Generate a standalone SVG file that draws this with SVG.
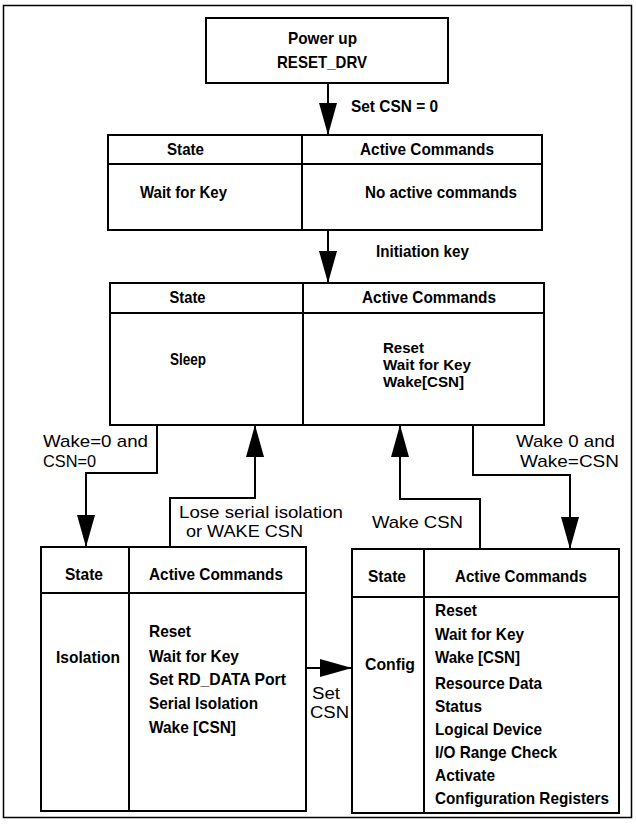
<svg xmlns="http://www.w3.org/2000/svg" width="636" height="824" viewBox="0 0 636 824">
<style>
.frame{fill:none;stroke:#000;stroke-width:1.5}
.box{fill:#fff;stroke:#000;stroke-width:2}
.ln{fill:none;stroke:#000;stroke-width:2}
.conn{fill:none;stroke:#000;stroke-width:2;marker-end:url(#ah)}
text{font-family:"Liberation Sans",Arial,Helvetica,sans-serif;fill:#000}
.b{font-weight:bold;font-size:17px}
.s{font-size:15px}
.r{font-weight:normal;font-size:17px}
.r2{font-size:16.5px}
.c{text-anchor:middle}
</style>
<defs>
<marker id="ah" markerUnits="userSpaceOnUse" markerWidth="32" markerHeight="18" refX="32" refY="9" orient="auto" viewBox="0 0 32 18">
<path d="M0,0 L32,9 L0,18 z" fill="#000"/>
</marker>
</defs>
<rect class="frame" x="3.5" y="5.5" width="628" height="812"/>

<g id="connectors">
<path class="conn" d="M328,83 V135"/>
<path class="conn" d="M328,230 V283"/>
<path class="conn" d="M157,425 V473 H86 V547"/>
<path class="conn" d="M170,547 V498 H255 V425"/>
<path class="conn" d="M480,549 V499 H400 V425"/>
<path class="conn" d="M473,425 V475 H570 V549"/>
<path class="conn" d="M306,668 H352"/>
<text class="b" x="351" y="112" textLength="87" lengthAdjust="spacingAndGlyphs">Set CSN = 0</text>
<text class="b" x="376" y="257" textLength="93" lengthAdjust="spacingAndGlyphs">Initiation key</text>
<text class="r" x="43" y="447" textLength="105" lengthAdjust="spacingAndGlyphs">Wake=0 and</text>
<text class="r" x="43" y="467" textLength="53" lengthAdjust="spacingAndGlyphs">CSN=0</text>
<text class="r r2" x="179" y="518" textLength="164" lengthAdjust="spacingAndGlyphs">Lose serial isolation</text>
<text class="r r2" x="186" y="537" textLength="117" lengthAdjust="spacingAndGlyphs">or WAKE CSN</text>
<text class="r" x="372" y="528" textLength="91" lengthAdjust="spacingAndGlyphs">Wake CSN</text>
<text class="r" x="516" y="447" textLength="99" lengthAdjust="spacingAndGlyphs">Wake 0 and</text>
<text class="r" x="520" y="467" textLength="99" lengthAdjust="spacingAndGlyphs">Wake=CSN</text>
<text class="r" x="312" y="699" style="font-size:16px" textLength="28" lengthAdjust="spacingAndGlyphs">Set</text>
<text class="r" x="310" y="718" style="font-size:16px" textLength="39" lengthAdjust="spacingAndGlyphs">CSN</text>
</g>

<g id="powerup">
<rect class="box" x="206" y="18" width="242" height="65"/>
<text class="b c" x="322.5" y="44" textLength="69" lengthAdjust="spacingAndGlyphs">Power up</text>
<text class="b c" x="322" y="68" textLength="90" lengthAdjust="spacingAndGlyphs">RESET_DRV</text>
</g>

<g id="waitforkey">
<rect class="box" x="108" y="135" width="434" height="95"/>
<path class="ln" d="M108,164 H542 M302,135 V230"/>
<text class="b c" x="185.5" y="155" textLength="37" lengthAdjust="spacingAndGlyphs">State</text>
<text class="b c" x="427" y="155" textLength="134" lengthAdjust="spacingAndGlyphs">Active Commands</text>
<text class="b" x="140" y="198" textLength="87" lengthAdjust="spacingAndGlyphs">Wait for Key</text>
<text class="b" x="365" y="198" textLength="152" lengthAdjust="spacingAndGlyphs">No active commands</text>
</g>

<g id="sleep">
<rect class="box" x="110" y="283" width="434" height="142"/>
<path class="ln" d="M110,313 H544 M303,283 V425"/>
<text class="b c" x="187.5" y="303" textLength="36" lengthAdjust="spacingAndGlyphs">State</text>
<text class="b c" x="429" y="303" textLength="134" lengthAdjust="spacingAndGlyphs">Active Commands</text>
<text class="b" x="170" y="365" textLength="36" lengthAdjust="spacingAndGlyphs">Sleep</text>
<text class="b s" x="383" y="353" textLength="41" lengthAdjust="spacingAndGlyphs">Reset</text>
<text class="b s" x="383" y="370" textLength="88" lengthAdjust="spacingAndGlyphs">Wait for Key</text>
<text class="b s" x="383" y="387" textLength="81" lengthAdjust="spacingAndGlyphs">Wake[CSN]</text>
</g>

<g id="isolation">
<rect class="box" x="41" y="547" width="265" height="264"/>
<path class="ln" d="M41,593 H306 M129,547 V811"/>
<text class="b c" x="84" y="580" textLength="38" lengthAdjust="spacingAndGlyphs">State</text>
<text class="b c" x="216" y="580" textLength="134" lengthAdjust="spacingAndGlyphs">Active Commands</text>
<text class="b" x="56" y="663" textLength="64" lengthAdjust="spacingAndGlyphs">Isolation</text>
<text class="b" x="149" y="637" textLength="42" lengthAdjust="spacingAndGlyphs">Reset</text>
<text class="b" x="149" y="662" textLength="90" lengthAdjust="spacingAndGlyphs">Wait for Key</text>
<text class="b" x="149" y="685" textLength="137" lengthAdjust="spacingAndGlyphs">Set RD_DATA Port</text>
<text class="b" x="149" y="709" textLength="109" lengthAdjust="spacingAndGlyphs">Serial Isolation</text>
<text class="b" x="149" y="733" textLength="87" lengthAdjust="spacingAndGlyphs">Wake [CSN]</text>
</g>

<g id="config">
<rect class="box" x="352" y="549" width="267" height="264"/>
<path class="ln" d="M352,597 H619 M424,549 V813"/>
<text class="b c" x="387" y="582" textLength="38" lengthAdjust="spacingAndGlyphs">State</text>
<text class="b c" x="521" y="582" textLength="132" lengthAdjust="spacingAndGlyphs">Active Commands</text>
<text class="b" x="365" y="670" textLength="50" lengthAdjust="spacingAndGlyphs">Config</text>
<text class="b" x="435" y="616" textLength="42" lengthAdjust="spacingAndGlyphs">Reset</text>
<text class="b" x="435" y="640" textLength="89" lengthAdjust="spacingAndGlyphs">Wait for Key</text>
<text class="b" x="435" y="663" textLength="85" lengthAdjust="spacingAndGlyphs">Wake [CSN]</text>
<text class="b" x="435" y="689" textLength="107" lengthAdjust="spacingAndGlyphs">Resource Data</text>
<text class="b" x="435" y="712" textLength="47" lengthAdjust="spacingAndGlyphs">Status</text>
<text class="b" x="435" y="735" textLength="107" lengthAdjust="spacingAndGlyphs">Logical Device</text>
<text class="b" x="435" y="758" textLength="122" lengthAdjust="spacingAndGlyphs">I/O Range Check</text>
<text class="b" x="435" y="781" textLength="60" lengthAdjust="spacingAndGlyphs">Activate</text>
<text class="b" x="435" y="804" textLength="174" lengthAdjust="spacingAndGlyphs">Configuration Registers</text>
</g>
</svg>
